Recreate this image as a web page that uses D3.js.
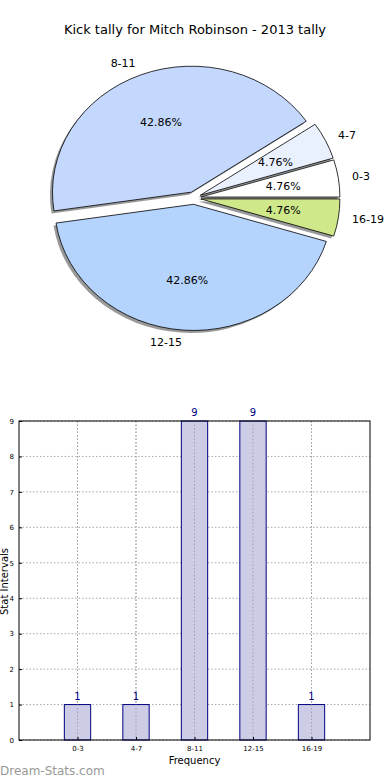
<!DOCTYPE html>
<html><head><meta charset="utf-8">
<script src="https://cdn.jsdelivr.net/npm/d3@7"></script>
<style>
html,body{margin:0;padding:0;background:#fff;}
svg{display:block;font-family:"DejaVu Sans",sans-serif;}
</style></head>
<body>
<svg id="c" width="390" height="780"></svg>
<script>
const categories = ["0-3","4-7","8-11","12-15","16-19"];
const values = [1,1,9,9,1];
const pieColors = ["#ffffff","#e9f0fe","#c4d8fe","#b4d4fe","#cfe98a"];
const explode = [0.05,0.05,0.05,0.05,0.05];
const yTicks = [0,1,2,3,4,5,6,7,8,9];
const title = "Kick tally for Mitch Robinson - 2013 tally";

const svg = d3.select("#c");

svg.append("text").attr("x",195).attr("y",34).attr("text-anchor","middle")
  .attr("font-size",13).attr("fill","#000").text(title);

// Pie
const cx = 194, cy = 198, rx = 139, ry = 126;
const total = d3.sum(values);
const pie = d3.pie().sort(null).startAngle(Math.PI/2).endAngle(Math.PI/2 - 2*Math.PI);
const slices = pie(values);
const arc = d3.arc().innerRadius(0).outerRadius(1);
const pieG = svg.append("g");
function mid(s){ return Math.PI/2 - (s.startAngle + s.endAngle)/2; }
function off(s,i){ const a = mid(s); return [explode[i]*rx*Math.cos(a), -explode[i]*ry*Math.sin(a)]; }

// shadows
pieG.selectAll("path.sh").data(slices).join("path")
  .attr("class","sh")
  .attr("d", arc)
  .attr("transform",(s,i)=>{const o=off(s,i);return `translate(${cx+o[0]-2.5},${cy+o[1]+2.5}) scale(${rx},${ry})`;})
  .attr("fill","#7f7f7f").attr("opacity",0.8);

pieG.selectAll("path.sl").data(slices).join("path")
  .attr("class","sl")
  .attr("d", arc)
  .attr("transform",(s,i)=>{const o=off(s,i);return `translate(${cx+o[0]},${cy+o[1]}) scale(${rx},${ry})`;})
  .attr("fill",(s,i)=>pieColors[i])
  .attr("stroke","#000").attr("stroke-width",0.8)
  .attr("vector-effect","non-scaling-stroke");

// labels
pieG.selectAll("text.lb").data(slices).join("text")
  .attr("class","lb")
  .attr("x",(s,i)=>{const o=off(s,i);return cx+o[0]+1.1*rx*Math.cos(mid(s));})
  .attr("y",(s,i)=>{const o=off(s,i);return cy+o[1]-1.1*ry*Math.sin(mid(s));})
  .attr("dy","0.35em")
  .attr("text-anchor",s=>Math.cos(mid(s))<0?"end":"start")
  .attr("font-size",11).attr("fill","#000")
  .text((s,i)=>categories[i]);

pieG.selectAll("text.pc").data(slices).join("text")
  .attr("class","pc")
  .attr("x",(s,i)=>{const o=off(s,i);return cx+o[0]+0.6*rx*Math.cos(mid(s));})
  .attr("y",(s,i)=>{const o=off(s,i);return cy+o[1]-0.6*ry*Math.sin(mid(s));})
  .attr("dy","0.35em")
  .attr("text-anchor","middle")
  .attr("font-size",11).attr("fill","#000")
  .text(s=>(s.value/total*100).toFixed(2)+"%");

// Bar chart
const L=19, R=370, T=421, B=740;
const x = d3.scaleLinear().domain([0,categories.length+1]).range([L,R]);
const y = d3.scaleLinear().domain([0,9]).range([B,T]);
const g = svg.append("g");

// grid
g.selectAll("line.gy").data(yTicks).join("line")
  .attr("x1",L).attr("x2",R).attr("y1",d=>y(d)).attr("y2",d=>y(d))
  .attr("stroke","#a8a8a8").attr("stroke-width",1).attr("stroke-dasharray","1.5,2");
g.selectAll("line.gx").data(categories).join("line")
  .attr("x1",(d,i)=>x(i+1)).attr("x2",(d,i)=>x(i+1)).attr("y1",T).attr("y2",B)
  .attr("stroke","#a8a8a8").attr("stroke-width",1).attr("stroke-dasharray","1.5,2");

// bars
const bw = 0.45;
g.selectAll("rect.bar").data(values).join("rect")
  .attr("x",(d,i)=>x(i+1-bw/2)).attr("width",(d,i)=>x(bw)-x(0))
  .attr("y",d=>y(d)).attr("height",d=>B-y(d))
  .attr("fill","#cccce6").attr("stroke","#000080").attr("stroke-width",1);

g.selectAll("line.gx2").data(categories).join("line")
  .attr("x1",(d,i)=>x(i+1)).attr("x2",(d,i)=>x(i+1)).attr("y1",T).attr("y2",B)
  .attr("stroke","#a0a0b0").attr("stroke-width",1).attr("stroke-dasharray","1.5,2");

g.selectAll("text.val").data(values).join("text")
  .attr("x",(d,i)=>x(i+1)).attr("y",d=>y(d)-5)
  .attr("text-anchor","middle").attr("font-size",10).attr("fill","#000080")
  .text(d=>d);

// frame
g.append("rect").attr("x",L).attr("y",T).attr("width",R-L).attr("height",B-T)
  .attr("fill","none").attr("stroke","#000").attr("stroke-width",1);

// axes
const ay = g.append("g").attr("transform",`translate(${L},0)`)
  .call(d3.axisLeft(y).tickValues(yTicks).tickSize(-3).tickPadding(5).tickFormat(d3.format("d")));
ay.select(".domain").remove();
ay.selectAll("text").attr("font-size",7).attr("font-family","DejaVu Sans");
const ax = g.append("g").attr("transform",`translate(0,${B})`)
  .call(d3.axisBottom(x).tickValues(categories.map((c,i)=>i+1)).tickSize(-3).tickPadding(6)
    .tickFormat((d)=>categories[d-1]));
ax.select(".domain").remove();
ax.selectAll("text").attr("font-size",7).attr("font-family","DejaVu Sans");

svg.append("text").attr("x",(L+R)/2).attr("y",764).attr("text-anchor","middle")
  .attr("font-size",10).text("Frequency");
svg.append("text").attr("transform",`translate(8,${(T+B)/2+1}) rotate(-90)`)
  .attr("text-anchor","middle").attr("font-size",10).text("Stat Intervals");

svg.append("text").attr("x",0).attr("y",775).attr("font-size",12)
  .attr("fill","#999").text("Dream-Stats.com");
</script>
</body></html>
